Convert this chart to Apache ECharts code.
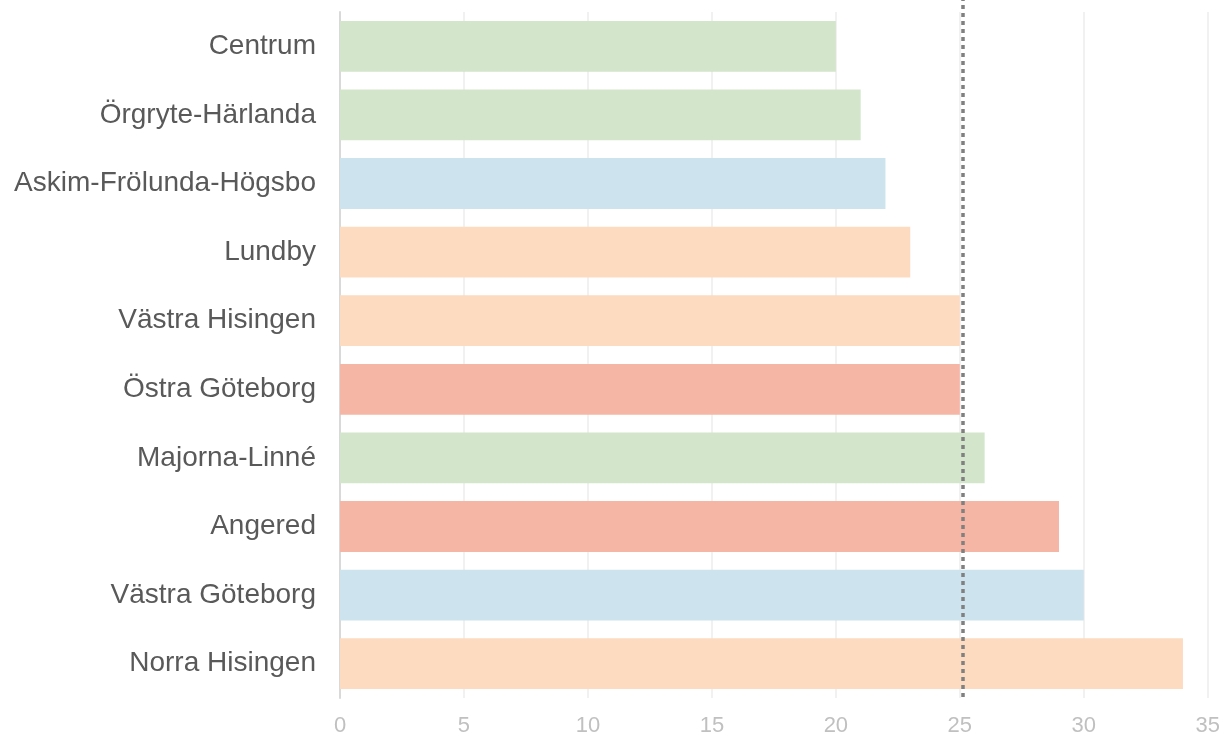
<!DOCTYPE html>
<html>
<head>
<meta charset="utf-8">
<script src="https://cdn.jsdelivr.net/npm/echarts@6/dist/echarts.min.js"></script>
<style>
  html, body { margin: 0; padding: 0; background: #fff; }
  #chart { width: 1223px; height: 737px; }
</style>
</head>
<body>
<div id="chart"></div>
<script>
// districts, top to bottom
const districts = [
  'Centrum', 'Örgryte-Härlanda', 'Askim-Frölunda-Högsbo', 'Lundby',
  'Västra Hisingen', 'Östra Göteborg', 'Majorna-Linné', 'Angered',
  'Västra Göteborg', 'Norra Hisingen'
]
const values = [20, 21, 22, 23, 25, 25, 26, 29, 30, 34]
const groups = ['green', 'green', 'blue', 'peach', 'peach', 'salmon', 'green', 'salmon', 'blue', 'peach']
const refValue = 25.1
const xTicks = [0, 5, 10, 15, 20, 25, 30, 35]

const palette = {
  green: '#d3e5cb',
  blue: '#cde3ee',
  peach: '#fddbc1',
  salmon: '#f6b6a5'
}

let chart = echarts.init(document.getElementById('chart'))

let options = {
  animation: false,
  grid: [
    { left: 340, right: 14, top: 12, bottom: 39 },
    { left: 340, right: 14, top: 0, bottom: 40 }
  ],
  xAxis: [
    {
      type: 'value',
      gridIndex: 0,
      min: xTicks[0],
      max: xTicks[xTicks.length - 1],
      interval: 5,
      axisLine: { show: false },
      axisTick: { show: false },
      splitLine: { show: true, lineStyle: { color: '#ececec', width: 1.5 } },
      axisLabel: { color: '#c0c0c0', fontSize: 22, margin: 17, fontFamily: 'Liberation Sans' }
    },
    {
      type: 'value',
      gridIndex: 1,
      min: xTicks[0],
      max: xTicks[xTicks.length - 1],
      show: false
    }
  ],
  yAxis: [
    {
      type: 'category',
      gridIndex: 0,
      inverse: true,
      data: districts,
      axisLine: { show: true, lineStyle: { color: '#d9d9d9', width: 2 } },
      axisTick: { show: false },
      axisLabel: { color: '#595959', fontSize: 28, margin: 24, fontFamily: 'Liberation Sans' }
    },
    {
      type: 'value',
      gridIndex: 1,
      show: false,
      min: 0,
      max: 1
    }
  ],
  series: [
    {
      type: 'bar',
      xAxisIndex: 0,
      yAxisIndex: 0,
      barWidth: '74%',
      data: values.map((v, i) => ({ value: v, itemStyle: { color: palette[groups[i]] } }))
    },
    {
      // reference line spanning the full plot height
      type: 'line',
      xAxisIndex: 1,
      yAxisIndex: 1,
      data: [],
      markLine: {
        silent: true,
        symbol: 'none',
        label: { show: false },
        lineStyle: { color: '#808080', width: 3.5, type: [4, 4] },
        data: [{ xAxis: refValue }]
      }
    }
  ]
}

chart.setOption(options)
</script>
</body>
</html>
